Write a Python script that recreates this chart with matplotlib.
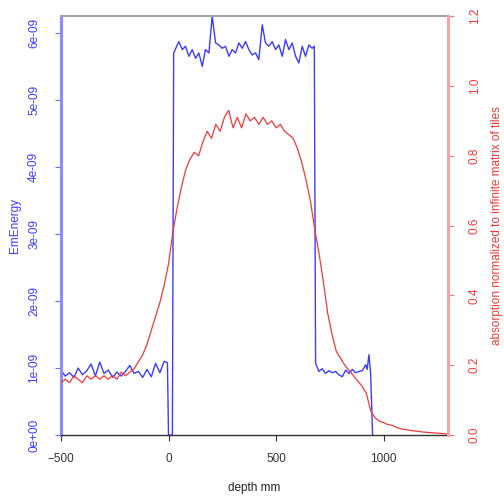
import matplotlib
matplotlib.use("Agg")
import matplotlib.pyplot as plt
from matplotlib.ticker import FuncFormatter

plt.rcParams['font.family'] = ['Liberation Sans', 'DejaVu Sans']

# energia depositada (eje izquierdo, azul)
prof_energia = [-500, -480, -460, -440, -420, -400, -380, -360, -340, -320,
                -300, -280, -260, -240, -220, -200, -180, -160, -140, -120,
                -100, -80, -60, -40, -20, -5, 0, 18, 24,
                48, 64, 79, 95, 110, 126, 141, 157, 172, 188,
                203, 219, 234, 250, 265, 281, 296, 312, 327, 343,
                358, 374, 389, 405, 420, 436, 451, 467, 482, 498,
                513, 529, 544, 560, 575, 591, 606, 622, 637, 653,
                668, 678, 684, 699, 715, 730, 746, 761, 777, 792,
                808, 824, 839, 855, 870, 886, 901, 917, 924, 932,
                940, 949]
em_energy = [0.97, 0.88, 0.93, 0.86, 1.00, 0.90, 0.96, 1.06, 0.88, 1.09,
             0.92, 0.97, 0.86, 0.94, 0.88, 0.95, 1.04, 0.92, 0.95, 0.86,
             0.98, 0.87, 1.07, 0.93, 1.10, 1.08, 0.0, 0.0, 5.70,
             5.87, 5.75, 5.80, 5.65, 5.75, 5.62, 5.70, 5.50, 5.75, 5.70,
             6.25, 5.85, 5.82, 5.77, 5.80, 5.65, 5.75, 5.70, 5.85, 5.77,
             5.87, 5.75, 5.67, 5.70, 5.60, 6.12, 5.85, 5.80, 5.87, 5.75,
             5.82, 5.65, 5.90, 5.75, 5.85, 5.65, 5.55, 5.80, 5.65, 5.82,
             5.77, 5.80, 1.07, 0.95, 0.99, 0.92, 0.96, 0.93, 0.95, 0.90,
             0.87, 0.97, 0.92, 0.98, 0.93, 0.95, 0.96, 1.05, 0.98, 1.20,
             0.92, 0.0]
em_energy = [v * 1e-9 for v in em_energy]

# absorcion normalizada (eje derecho, rojo)
prof_abs = [-500, -480, -460, -440, -420, -400, -380, -360, -340, -320,
            -300, -280, -260, -240, -220, -200, -180, -160, -140, -120,
            -100, -80, -60, -40, -20, 0, 20, 40, 60, 80,
            100, 120, 140, 160, 180, 200, 220, 240, 260, 280,
            300, 320, 340, 360, 380, 400, 420, 440, 460, 480,
            500, 520, 540, 560, 580, 600, 620, 640, 660, 680,
            700, 720, 740, 760, 780, 800, 820, 840, 860, 880,
            900, 920, 940, 960, 980, 1000, 1020, 1040, 1060, 1080,
            1100, 1120, 1140, 1160, 1180, 1200, 1220, 1240, 1260, 1280,
            1300]
absorcion = [0.15, 0.16, 0.15, 0.17, 0.16, 0.15, 0.17, 0.16, 0.17, 0.16,
             0.17, 0.16, 0.17, 0.16, 0.18, 0.17, 0.18, 0.19, 0.21, 0.23,
             0.26, 0.30, 0.34, 0.38, 0.43, 0.49, 0.58, 0.65, 0.71, 0.76,
             0.79, 0.81, 0.80, 0.84, 0.87, 0.85, 0.89, 0.87, 0.91, 0.93,
             0.88, 0.91, 0.88, 0.92, 0.90, 0.91, 0.89, 0.91, 0.89, 0.90,
             0.88, 0.89, 0.87, 0.86, 0.85, 0.82, 0.78, 0.73, 0.67, 0.59,
             0.52, 0.44, 0.35, 0.29, 0.24, 0.22, 0.20, 0.185, 0.17, 0.155,
             0.14, 0.12, 0.07, 0.05, 0.04, 0.036, 0.03, 0.028, 0.022, 0.018,
             0.016, 0.014, 0.012, 0.011, 0.009, 0.008, 0.007, 0.006, 0.005, 0.004,
             0.003]

x_ticks = [-500, 0, 500, 1000]
y_ticks_izq = [0, 1e-9, 2e-9, 3e-9, 4e-9, 5e-9, 6e-9]
y_ticks_der = [0.0, 0.2, 0.4, 0.6, 0.8, 1.0, 1.2]

AZUL = '#3c3cff'
ROJO = '#f03a3a'

fig = plt.figure(figsize=(5.04, 5.03), dpi=100)
ax = fig.add_axes([0.121, 0.135, 0.768, 0.833])
ax2 = ax.twinx()

ax.plot(prof_energia, em_energy, color=AZUL, lw=1.0)
ax2.plot(prof_abs, absorcion, color=ROJO, lw=0.9)

ax.set_xlim(-500, 1300)
ax.set_ylim(0, 6.25e-9)
ax2.set_ylim(0, 1.2)

ax.set_xticks(x_ticks)
ax.set_yticks(y_ticks_izq)
ax.yaxis.set_major_formatter(FuncFormatter(lambda v, p: f"{v:.0e}"))
ax2.set_yticks(y_ticks_der)
ax2.yaxis.set_major_formatter(FuncFormatter(lambda v, p: f"{v:.1f}"))

# ejes estilo R
ax.spines['left'].set_color('#8c8cff')
ax.spines['left'].set_linewidth(2.2)
ax.spines['right'].set_visible(False)
ax.spines['top'].set_color('#a0a0a0')
ax.spines['top'].set_linewidth(1.5)
ax.spines['bottom'].set_color('#333333')
ax.spines['bottom'].set_linewidth(1.0)
for s in ['left', 'top', 'bottom']:
    ax2.spines[s].set_visible(False)
ax2.spines['right'].set_color('#f4a4a4')
ax2.spines['right'].set_linewidth(2.2)

ax.tick_params(axis='x', colors='#333333', length=4, width=0.8, pad=9, labelsize=8.5)
ax.tick_params(axis='y', colors='#6a6aff', labelcolor=AZUL, length=4, width=0.8,
               pad=11, labelsize=8.5, labelrotation=90)
ax2.tick_params(axis='y', colors='#e88080', labelcolor=ROJO, length=4, width=0.8,
                pad=11, labelsize=8.5, labelrotation=90)
for l in ax.get_yticklabels() + ax2.get_yticklabels():
    l.set_va('center')

ax.set_xlabel('depth mm', fontsize=8.5, color='#222222', labelpad=12)
ax.set_ylabel('EmEnergy', fontsize=8.5, color=AZUL, labelpad=5)
ax2.set_ylabel('absorption normalized to infinite matrix of tiles', fontsize=8.5,
               color=ROJO, labelpad=7, rotation=90)

plt.savefig('out.png', dpi=100)
